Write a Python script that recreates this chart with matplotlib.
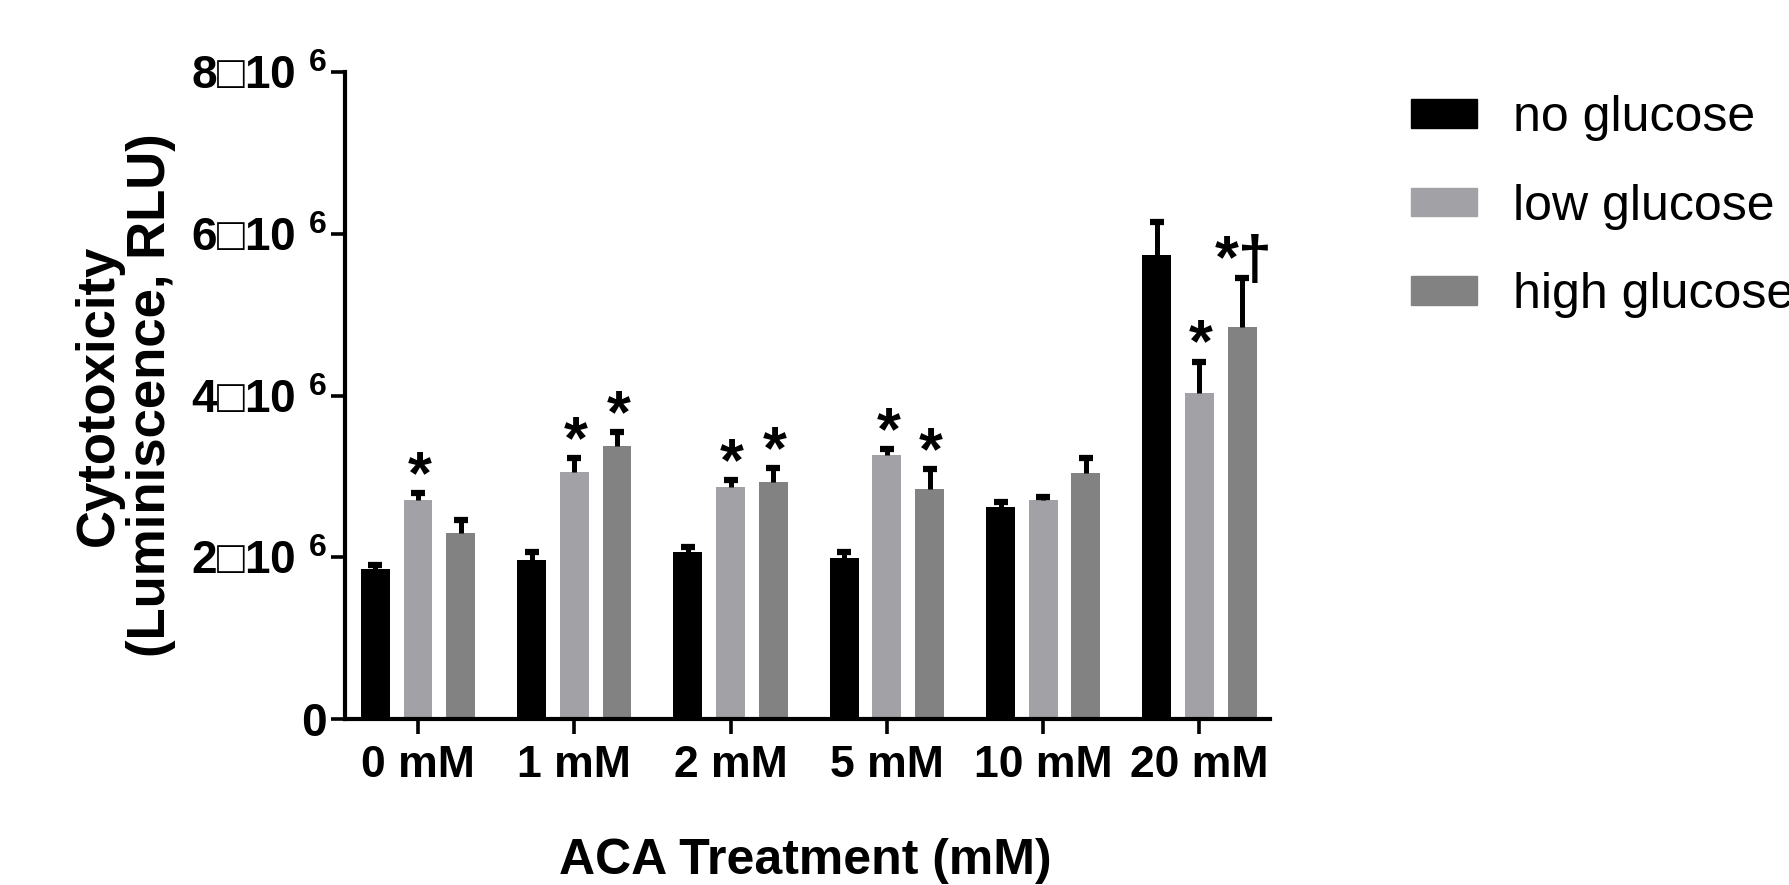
"""
Cytotoxicity bar chart: ACA treatment x glucose level, with SEM bars and significance marks.
"""

import numpy as np
import matplotlib
matplotlib.use('Agg')
from matplotlib import pyplot as plt
from matplotlib import patches

doses = ['0 mM', '1 mM', '2 mM', '5 mM', '10 mM', '20 mM']
groups = ['no glucose', 'low glucose', 'high glucose']
colors = ['#000000', '#a2a2a6', '#828282']

# mean luminescence (RLU, x10^6) and upper error
no_glucose = [1.86, 1.97, 2.06, 1.99, 2.62, 5.74]
no_glucose_err = [0.05, 0.09, 0.07, 0.07, 0.06, 0.41]
low_glucose = [2.71, 3.05, 2.87, 3.27, 2.71, 4.03]
low_glucose_err = [0.08, 0.18, 0.08, 0.07, 0.03, 0.39]
high_glucose = [2.30, 3.38, 2.93, 2.85, 3.04, 4.85]
high_glucose_err = [0.16, 0.17, 0.17, 0.24, 0.19, 0.60]

# significance marks above each bar
no_marks = ['', '', '', '', '', '']
low_marks = ['*', '*', '*', '*', '', '*']
high_marks = ['', '*', '*', '*', '', '*\u2020']

yticks = [0, 2e6, 4e6, 6e6, 8e6]
ytick_labels = ['0', '2\u25a110 $^{6}$', '4\u25a110 $^{6}$', '6\u25a110 $^{6}$', '8\u25a110 $^{6}$']

FONT = ['Liberation Sans', 'DejaVu Sans']


def main():
    plt.rcParams['mathtext.fontset'] = 'custom'
    plt.rcParams['mathtext.rm'] = 'Liberation Sans:bold'
    plt.rcParams['mathtext.bf'] = 'Liberation Sans:bold'
    plt.rcParams['mathtext.default'] = 'rm'

    fig = plt.figure(figsize=(17.89, 8.85), dpi=100)
    ax = fig.add_axes([0.1928, 0.1876, 0.517, 0.731])

    x = np.arange(len(doses))
    width = 0.184
    offsets = [-0.273, 0.0, 0.273]
    series = [
        (no_glucose, no_glucose_err, no_marks),
        (low_glucose, low_glucose_err, low_marks),
        (high_glucose, high_glucose_err, high_marks),
    ]

    for (vals, errs, marks), off, col in zip(series, offsets, colors):
        vals = np.array(vals) * 1e6
        errs = np.array(errs) * 1e6
        ax.bar(x + off, vals, width=width, color=col, zorder=2)
        # one-sided error bar: stem from bar top, cap only at the upper end
        ax.errorbar(x + off, vals, yerr=[np.zeros_like(errs), errs], fmt='none',
                    ecolor='black', elinewidth=3.6, capsize=0, zorder=3)
        ax.plot(x + off, vals + errs, ls='none', marker='_', color='black',
                markersize=10, markeredgewidth=4.5, zorder=3)
        for xi, v, e, m in zip(x + off, vals, errs, marks):
            if m:
                ax.annotate(m, (xi, v + e), xytext=(1, 0), textcoords='offset points',
                            ha='center', va='baseline', fontsize=44, fontweight='bold',
                            family=FONT)

    ax.set_xlim(-0.467, 5.45)
    ax.set_ylim(0, 8e6)
    ax.set_xticks(x)
    ax.set_xticklabels(doses, fontsize=32, fontweight='bold', family=FONT)
    ax.set_yticks(yticks)
    ax.set_yticklabels(ytick_labels, fontsize=33, fontweight='bold', family=FONT)

    for side in ['top', 'right']:
        ax.spines[side].set_visible(False)
    for side in ['left', 'bottom']:
        ax.spines[side].set_linewidth(3)
    ax.tick_params(axis='x', length=11, width=2.6, pad=8)
    ax.tick_params(axis='y', length=10, width=2.6, pad=3)

    fig.text(0.0699, 0.5537, 'Cytotoxicity\n(Luminiscence, RLU)', rotation=90,
             ha='center', va='center', multialignment='center', linespacing=1.05,
             fontsize=38, fontweight='bold', family=FONT)
    fig.text(0.450, 0.027, 'ACA Treatment (mM)', ha='center', va='center',
             fontsize=36, fontweight='bold', family=FONT)

    handles = [patches.Rectangle((0, 0), 1, 1, color=c) for c in colors]
    fs_px = 36 * 100 / 72
    fig.legend(handles, groups, loc='upper left', bbox_to_anchor=(1411 / 1789, 0.8925),
               frameon=False, borderpad=0, borderaxespad=0,
               handlelength=66 / fs_px, handleheight=25 / fs_px,
               handletextpad=36 / fs_px, labelspacing=0.85,
               prop={'family': FONT, 'size': 36})

    fig.savefig('out.png', dpi=100)


if __name__ == '__main__':
    main()
